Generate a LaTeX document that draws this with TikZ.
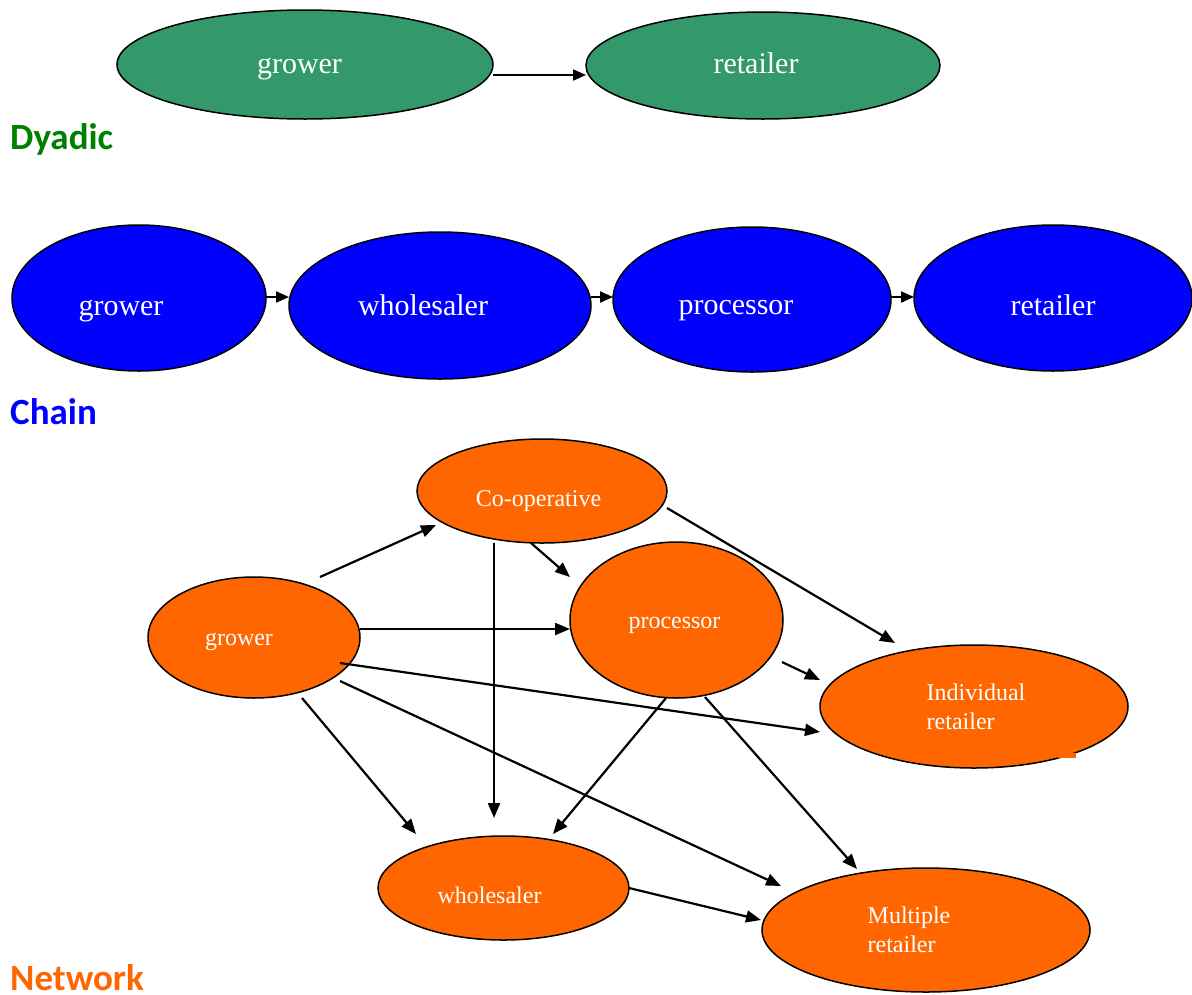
\documentclass[tikz,border=0pt]{standalone}
\usepackage{fontspec}
\setmainfont{Liberation Serif}
\newfontfamily\labfont{Carlito}
\usetikzlibrary{shapes.geometric,arrows.meta,calc}
\definecolor{dgreen}{RGB}{52,153,106}
\definecolor{lgreen}{RGB}{0,128,0}
\definecolor{cblue}{RGB}{0,0,255}
\definecolor{corange}{RGB}{255,102,0}
% move text by (dx,dy) inside a node, dy positive = down
\newcommand\mvtxt[3]{\hspace*{#1}\raisebox{#2}[\height][\depth]{#3}}
\tikzset{
  ell/.style={ellipse, draw=black, line width=1.5pt, inner sep=0pt, text=white},
  topell/.style={ell, fill=dgreen, font=\fontsize{30}{34}\selectfont},
  chainell/.style={ell, fill=cblue, font=\fontsize{30}{34}\selectfont},
  netell/.style={ell, fill=corange, font=\fontsize{24}{29}\selectfont},
  arr/.style={-{Triangle[length=15pt,width=12pt]}, line width=2.2pt},
  sarr/.style={-{Triangle[length=13pt,width=11pt]}, line width=2pt},
  lab/.style={anchor=base west, inner sep=0pt, font=\labfont\bfseries\fontsize{37}{42}\selectfont}
}
\begin{document}
\begin{tikzpicture}[x=1pt,y=-1pt]
\useasboundingbox (0,0) rectangle (1192,994);
% Dyadic
\node[topell, minimum width=376pt, minimum height=109pt] (g1) at (305,64.5) {\mvtxt{-11pt}{-5pt}{grower}};
\node[topell, minimum width=354pt, minimum height=107pt] (r1) at (763,65.5) {\mvtxt{-14pt}{2pt}{retailer}};
\draw[sarr] ($(g1)+(188,10.5)$) -- ($(r1)+(-177,9.5)$);
\node[lab, text=lgreen] (ldy) at (10,149) {Dyadic};
% Chain
\node[chainell, minimum width=254pt, minimum height=146pt] (g2) at (139,298) {\mvtxt{-36pt}{-13pt}{grower}};
\node[chainell, minimum width=302pt, minimum height=147pt] (w2) at (440,305.5) {\mvtxt{-34pt}{0pt}{wholesaler}};
\node[chainell, minimum width=278pt, minimum height=145pt] (p2) at (752,299.5) {\mvtxt{-32pt}{-11pt}{processor}};
\node[chainell, minimum width=278pt, minimum height=146pt] (r2) at (1053,298) {\mvtxt{0pt}{-7pt}{retailer}};
\draw[sarr] ($(g2)+(127,-1)$) -- ($(w2)+(-151,-8.5)$);
\draw[sarr] ($(w2)+(151,-8.5)$) -- ($(p2)+(-139,-2.5)$);
\draw[sarr] ($(p2)+(139,-2.5)$) -- ($(r2)+(-139,-1)$);
\node[lab, text=cblue] (lch) at (10,424) {Chain};
% Network
\node[netell, minimum width=250pt, minimum height=104pt] (C) at (542,491) {\mvtxt{-7pt}{-10pt}{Co-operative}};
\node[netell, minimum width=212pt, minimum height=121pt] (G) at (254,637.5) {\mvtxt{-30pt}{-4pt}{grower}};
\node[netell, minimum width=213pt, minimum height=156pt] (P) at (676.5,620) {\mvtxt{-4pt}{-5pt}{processor}};
\node[netell, minimum width=308pt, minimum height=123pt] (I) at (974,706.5) {\mvtxt{4pt}{-3pt}{\begin{tabular}{@{}l@{}}Individual\\retailer\end{tabular}}};
\node[netell, minimum width=251pt, minimum height=104pt] (W) at (503.5,888) {\mvtxt{-28pt}{-7pt}{wholesaler}};
\node[netell, minimum width=328pt, minimum height=124pt] (M) at (926,930) {\mvtxt{-34pt}{-2pt}{\begin{tabular}{@{}l@{}}Multiple\\retailer\end{tabular}}};
\fill[corange] (1058,752.5) rectangle (1076,758);
\draw[arr] ($(G)+(66,-60.5)$) -- ($(C)+(-106,34)$);
\draw[arr] ($(G)+(106,-8.5)$) -- ($(P)+(-106.5,9)$);
\draw[arr] ($(G)+(86,25.5)$) -- ($(I)+(-154,25.5)$);
\draw[arr] ($(G)+(86,43.5)$) -- ($(M)+(-145,-44)$);
\draw[arr] ($(G)+(48,60.5)$) -- ($(W)+(-87.5,-54)$);
\draw[arr] ($(C)+(-48,52)$) -- ($(W)+(-9.5,-70)$);
\draw[arr] ($(C)+(-11,52)$) -- ($(P)+(-106.5,-43)$);
\draw[arr] ($(C)+(125,17)$) -- ($(I)+(-79,-63.5)$);
\draw[arr] ($(P)+(105.5,42)$) -- ($(I)+(-154,-26.5)$);
\draw[arr] ($(P)+(-10.5,78)$) -- ($(W)+(49.5,-54)$);
\draw[arr] ($(P)+(28.5,77)$) -- ($(M)+(-69,-61)$);
\draw[arr] ($(W)+(125.5,0)$) -- ($(M)+(-165,-10)$);
\node[lab, text=corange] (lnw) at (10,990) {Network};
\end{tikzpicture}
\end{document}
